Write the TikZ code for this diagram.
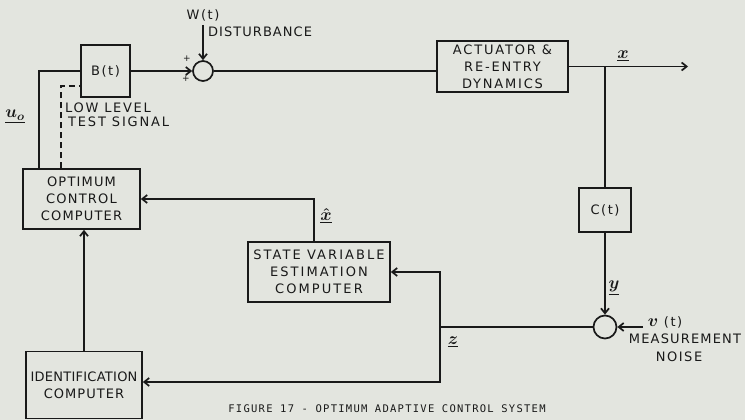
\documentclass[tikz,border=0pt]{standalone}
\usepackage{fontspec}
\usepackage{amsmath}
\setmainfont{DejaVu Sans}[LetterSpace=12]
\newfontfamily\legende{DejaVu Sans Mono}[LetterSpace=12]
\usetikzlibrary{arrows.meta}
\definecolor{papier}{RGB}{227,229,223}
\definecolor{encre}{RGB}{25,25,25}
\newcommand{\vlab}[1]{$\underline{\boldsymbol{#1}}$}
\newcommand{\serre}[1]{\addfontfeature{LetterSpace=#1}}
\newcommand{\boite}[5]{\node[bloc,minimum width=#4,minimum height=#5] (#1) at (#2) {#3}}

\begin{document}
\begin{tikzpicture}[x=1pt,y=-1pt,
	bloc/.style={draw=encre,line width=1.7pt,align=center,text=encre,
		font=\fontsize{13}{17}\selectfont,inner sep=0pt},
	somme/.style={draw=encre,line width=1.7pt,circle,minimum size=#1,inner sep=0pt},
	fil/.style={draw=encre,line width=1.7pt},
	fleche/.style={fil,-{Straight Barb[length=5pt,width=8pt]}},
	etiq/.style={text=encre,font=\fontsize{13}{14}\selectfont,inner sep=0pt},
	vecteur/.style={etiq,font=\fontsize{17}{18}\selectfont}]
%Paper
	\fill[papier] (0,0) rectangle (745,420);
	\useasboundingbox (0,0) rectangle (745,420);
%Boxes
	\boite{bt}{105.5,71}{B(t)}{49pt}{52pt};
	\boite{act}{502.5,66.5}{\fontsize{13}{14.5}\selectfont\serre{14}ACTUATOR \&\\
		\serre{14}RE-ENTRY\\\serre{14}DYNAMICS}{131pt}{51pt};
	\boite{ct}{605,210}{C(t)}{52pt}{44pt};
	\boite{opt}{81.5,199}{\serre{9}OPTIMUM\\\serre{9}CONTROL\\\serre{9}COMPUTER}{117pt}{60pt};
	\boite{sve}{319,272}{\serre{16}STATE VARIABLE\\
		\serre{16}ESTIMATION\\\serre{16}COMPUTER}{142pt}{60pt};
	\boite{idn}{84,385}{\serre{2}IDENTIFICATION\\\serre{8}COMPUTER}{116pt}{67pt};
%Summing points
	\node[somme=20pt] (s1) at (203,71) {};
	\node[somme=23pt] (s2) at (605,327) {};
%Free ends
	\coordinate (w) at (203,25);
	\coordinate (sortie) at (688,66.5);
	\coordinate (br) at (605,66.5);
	\coordinate (bruit) at (643,327);
	\coordinate (j) at (440,327);
%Forward path
	\draw[fil] (39,0 |- opt.north) |- (bt.west);
	\draw[fil,dashed,dash pattern=on 6pt off 4pt] (61,0 |- opt.north) |- (bt.west |- 0,86);
	\draw[fleche] (bt.east) -- (s1.west);
	\draw[fleche] (w) -- (s1.north);
	\draw[fil] (s1.east) -- (act.west |- s1.east);
	\draw[fleche] (act.east) -- (sortie);
	\draw[fil] (br) -- (ct.north);
%Measurement
	\draw[fleche] (ct.south) -- (s2.north);
	\draw[fleche] (bruit) -- (s2.east);
	\draw[fil] (s2.west) -- (j);
	\draw[fleche] (j) |- (sve.east);
	\draw[fleche] (j) |- (idn.east |- 0,382);
%Feedback to the controller
	\draw[fleche] (314,0 |- sve.north) |- (opt.east);
	\draw[fleche] (idn.north) -- (idn.north |- opt.south);
%Labels
	\node[etiq] (lw) at (203,15) {W(t)};
	\node[etiq,anchor=west] (ld) at (208,32) {\serre{8}DISTURBANCE};
	\node[etiq,font=\small] (p1) at (187,59) {+};
	\node[etiq,font=\small] (p2) at (186,79) {+};
	\node[etiq,anchor=west] (lt1) at (65,108) {\serre{13}LOW LEVEL};
	\node[etiq,anchor=west] (lt2) at (68,122) {\serre{14}TEST SIGNAL};
	\node[vecteur] (lu) at (15,117) {\vlab{u_o}};
	\node[vecteur] (lx) at (623,56) {\vlab{x}};
	\node[vecteur] (lxh) at (326,216) {\vlab{\hat{x}}};
	\node[vecteur] (ly) at (614,288) {\vlab{y}};
	\node[vecteur] (lz) at (453,342) {\vlab{z}};
	\node[etiq] (lv) at (665,322) {{\fontsize{17}{18}\selectfont$\boldsymbol{v}$} (t)};
	\node[etiq] (lm1) at (685,339) {\serre{9}MEASUREMENT};
	\node[etiq] (lm2) at (679,357) {NOISE};
%Caption
	\node[text=encre,font=\legende\fontsize{10.5}{12}\selectfont] (cap) at (387,409)
		{FIGURE 17 - OPTIMUM ADAPTIVE CONTROL SYSTEM};
\end{tikzpicture}
\end{document}
